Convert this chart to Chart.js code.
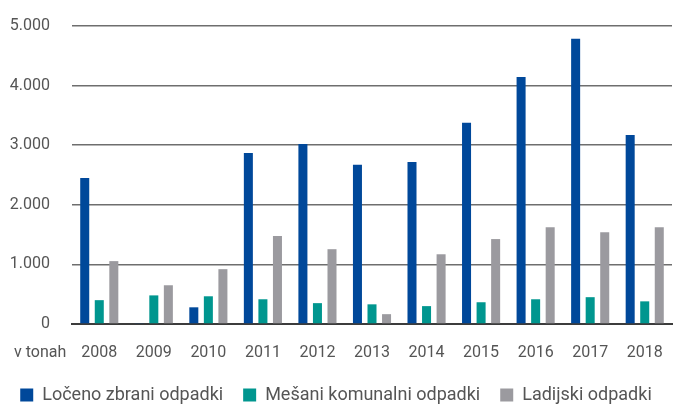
<!DOCTYPE html>
<html>
<head>
<meta charset="utf-8">
<script src="https://cdn.jsdelivr.net/npm/chart.js@4/dist/chart.umd.min.js"></script>
<style>
  html, body { margin: 0; padding: 0; background: #fff; }
  #wrap { width: 683px; height: 404px; }
</style>
</head>
<body>
<div id="wrap"><canvas id="chartOdpadki"></canvas></div>
<script>
var leta = ['2008', '2009', '2010', '2011', '2012', '2013', '2014', '2015', '2016', '2017', '2018']
var loceno = [2450, 15, 280, 2870, 3020, 2670, 2720, 3375, 4145, 4785, 3170]
var mesani = [400, 480, 465, 415, 350, 330, 300, 365, 415, 450, 380]
var ladijski = [1055, 650, 920, 1475, 1255, 165, 1170, 1425, 1625, 1540, 1625]
var yTicks = [0, 1000, 2000, 3000, 4000, 5000]

var textColor = '#555'
var fontName = 'Roboto'

function piko(v) {
  return String(v).replace(/\B(?=(\d{3})+(?!\d))/g, '.')
}

// "v tonah" before the first year label
var enota = {
  id: 'enota',
  afterDraw: function (chart) {
    var x = chart.scales.x
    var ctx = chart.ctx
    ctx.save()
    ctx.font = '16px ' + fontName
    ctx.fillStyle = textColor
    ctx.textAlign = 'left'
    ctx.textBaseline = 'middle'
    ctx.fillText('v tonah', 14, x.top + 19 + 9.6)
    ctx.restore()
  },
}

var odpadki = document.getElementById('chartOdpadki').getContext('2d')

var chart = new Chart(odpadki, {
  type: 'bar',
  data: {
    labels: leta,
    datasets: [
      { label: 'Ločeno zbrani odpadki', backgroundColor: '#00489a', data: loceno },
      { label: 'Mešani komunalni odpadki', backgroundColor: '#00968f', data: mesani },
      { label: 'Ladijski odpadki', backgroundColor: '#9b9a9f', data: ladijski },
    ],
  },
  options: {
    responsive: true,
    maintainAspectRatio: false,
    animation: false,
    layout: { padding: { left: 0, right: 11, top: 26, bottom: -10 } },
    datasets: { bar: { categoryPercentage: 0.8, barPercentage: 0.62 } },
    scales: {
      x: {
        grid: { display: false, drawTicks: false },
        border: { display: true, color: '#3c3c3c', width: 2 },
        ticks: { color: textColor, font: { family: fontName, size: 16 }, padding: 19, maxRotation: 0 },
        afterFit: function (s) { s.height = 42 },
      },
      y: {
        min: 0,
        max: 5000,
        afterBuildTicks: function (s) { s.ticks = yTicks.map(function (v) { return { value: v } }) },
        grid: { color: '#6e6e6e', lineWidth: 1.5, drawTicks: false },
        border: { display: false },
        ticks: { color: textColor, font: { family: fontName, size: 16 }, padding: 22, callback: piko },
        afterFit: function (s) {
          s.width = 72
          s.paddingTop = 0
          s.paddingBottom = 0
        },
      },
    },
    plugins: {
      tooltip: { enabled: false },
      legend: {
        position: 'bottom',
        labels: {
          color: textColor,
          font: { family: fontName, size: 18 },
          boxWidth: 13,
          boxHeight: 13,
          padding: 20,
        },
      },
    },
  },
  plugins: [enota],
})
</script>
</body>
</html>
